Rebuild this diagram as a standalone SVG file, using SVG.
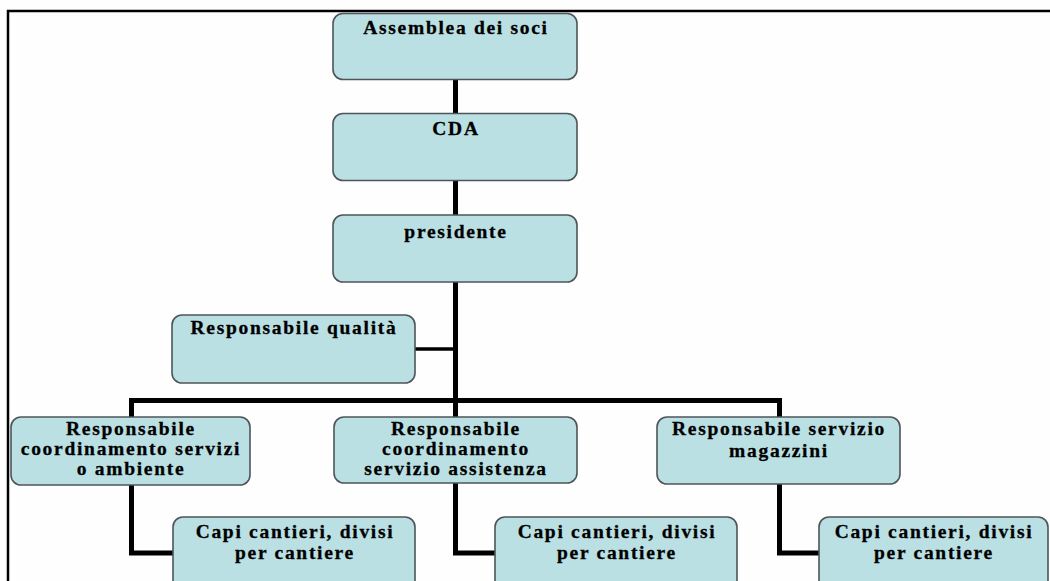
<svg xmlns="http://www.w3.org/2000/svg" width="1050" height="581" viewBox="0 0 1050 581">
  <style>
    .box { fill: #bae0e4; stroke: #4d5558; stroke-width: 1.6; }
    .lbl { font-family: "Liberation Serif", "Times New Roman", serif; font-weight: bold; font-size: 19.5px; letter-spacing: 1.7px; fill: #000; stroke: #000; stroke-width: 0.3; text-anchor: middle; }
    .wire { fill: none; stroke: #000; stroke-width: 5; stroke-linejoin: miter; }
    .thin { fill: none; stroke: #000; stroke-width: 3.5; }
    .frame { fill: none; stroke: #000; stroke-width: 2.5; }
  </style>

  <rect width="1050" height="581" fill="#fefefe"/>

  <!-- page frame (top and left edges) -->
  <path class="frame" d="M8,581 V11 H1050"/>

  <!-- connectors -->
  <g id="connectors">
    <path class="wire" d="M455.5,79 V417"/>
    <path class="wire" d="M131.5,417 V400.5 H779.5 V417"/>
    <path class="thin" d="M415,349 H455"/>
    <path class="wire" d="M131.5,484 V553 H173"/>
    <path class="wire" d="M455.5,483 V553 H495"/>
    <path class="wire" d="M779.5,484 V553 H819"/>
  </g>

  <g id="assemblea">
    <rect class="box" x="333" y="13.5" width="244" height="66" rx="10"/>
    <text class="lbl" x="456" y="34">Assemblea dei soci</text>
  </g>

  <g id="cda">
    <rect class="box" x="333" y="113.5" width="244" height="67" rx="10"/>
    <text class="lbl" x="456" y="135">CDA</text>
  </g>

  <g id="presidente">
    <rect class="box" x="333" y="215" width="244" height="67" rx="10"/>
    <text class="lbl" x="456" y="238">presidente</text>
  </g>

  <g id="qualita">
    <rect class="box" x="172" y="315" width="243" height="68" rx="10"/>
    <text class="lbl" x="294" y="334">Responsabile qualità</text>
  </g>

  <g id="resp-ambiente">
    <rect class="box" x="11" y="417" width="239" height="68" rx="10"/>
    <text class="lbl" x="131" y="435">Responsabile</text>
    <text class="lbl" x="131" y="455">coordinamento servizi</text>
    <text class="lbl" x="131" y="475">o ambiente</text>
  </g>

  <g id="resp-assistenza">
    <rect class="box" x="334" y="417" width="243" height="66" rx="10"/>
    <text class="lbl" x="456" y="435">Responsabile</text>
    <text class="lbl" x="456" y="455">coordinamento</text>
    <text class="lbl" x="456" y="475">servizio assistenza</text>
  </g>

  <g id="resp-magazzini">
    <rect class="box" x="657" y="417" width="243" height="67" rx="10"/>
    <text class="lbl" x="779" y="435">Responsabile servizio</text>
    <text class="lbl" x="779" y="457">magazzini</text>
  </g>

  <g id="capi-ambiente">
    <rect class="box" x="173" y="517" width="242" height="80" rx="10"/>
    <text class="lbl" x="295" y="538">Capi cantieri, divisi</text>
    <text class="lbl" x="295" y="559">per cantiere</text>
  </g>

  <g id="capi-assistenza">
    <rect class="box" x="495" y="517" width="242" height="80" rx="10"/>
    <text class="lbl" x="617" y="538">Capi cantieri, divisi</text>
    <text class="lbl" x="617" y="559">per cantiere</text>
  </g>

  <g id="capi-magazzini">
    <rect class="box" x="819" y="517" width="229" height="80" rx="10"/>
    <text class="lbl" x="934" y="538">Capi cantieri, divisi</text>
    <text class="lbl" x="934" y="559">per cantiere</text>
  </g>
</svg>
